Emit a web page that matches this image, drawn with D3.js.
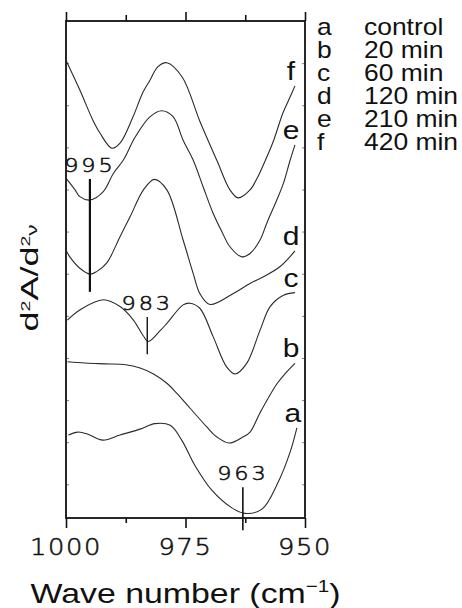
<!DOCTYPE html>
<html>
<head>
<meta charset="utf-8">
<script src="https://cdn.jsdelivr.net/npm/d3@7"></script>
<style>
  html, body { margin: 0; padding: 0; background: #fff; }
  svg { display: block; }
  text { font-family: "Liberation Sans", Arial, Helvetica, sans-serif; fill: #111; }
  text.num { font-family: "DejaVu Sans", sans-serif; font-weight: 200; stroke: #111; stroke-width: 0.55; }
</style>
</head>
<body>
<svg id="chart" width="462" height="608"></svg>
<script>
// Second-derivative IR spectra, offset vertically.
// Each point: [wave number (cm-1), d2A/dv2 (arbitrary units, stacked offset)]
const spectrumA = [[999.5, 1.17], [997.5, 1.24], [995.4, 1.19], [992.3, 1.05], [988.7, 1.17], [984.5, 1.31],
  [981.4, 1.44], [978.2, 1.40], [975.8, 1.05], [973.0, 0.44], [969.5, -0.14], [965.3, -0.56], [962.6, -0.69],
  [959.0, -0.59], [955.7, 0.03], [953.1, 0.77], [951.7, 1.34]];
const spectrumB = [[999.7, 2.91], [996.0, 2.88], [992.0, 2.86], [987.5, 2.84], [984.5, 2.76], [981.7, 2.62],
  [978.9, 2.40], [976.8, 2.16], [974.0, 1.80], [970.6, 1.37], [968.5, 1.13], [965.9, 0.98], [962.9, 1.13],
  [961.5, 1.24], [959.4, 1.70], [955.9, 2.38], [954.2, 2.62], [952.1, 2.87]];
const spectrumC = [[999.7, 3.90], [997.1, 4.14], [992.2, 4.38], [988.7, 4.22], [985.9, 3.90], [983.8, 3.52],
  [982.8, 3.39], [980.2, 3.66], [978.9, 3.82], [975.5, 4.26], [974.1, 4.30], [972.0, 4.18], [969.2, 3.50],
  [966.4, 2.79], [964.6, 2.62], [962.2, 2.87], [959.4, 3.66], [957.3, 4.22], [954.5, 4.49], [952.1, 4.55]];
const spectrumD = [[1000, 5.56], [999.2, 5.40], [997.1, 5.13], [995.0, 4.99], [993.6, 5.05], [991.5, 5.25],
  [988.7, 5.88], [986.6, 6.35], [983.8, 6.99], [981.5, 7.24], [978.9, 6.99], [975.5, 5.80], [973.4, 5.01],
  [972.0, 4.53], [969.9, 4.27], [965.0, 4.53], [961.5, 4.77], [958.8, 4.92], [955.2, 5.17], [952.1, 5.54]];
const spectrumE = [[1000, 7.27], [998.1, 6.99], [997.1, 6.83], [995.0, 6.75], [992.2, 6.95], [990.1, 7.38],
  [988.0, 7.70], [985.5, 8.25], [982.4, 8.73], [980.0, 8.87], [977.6, 8.73], [975.5, 8.17], [973.4, 7.70],
  [971.3, 7.06], [969.2, 6.43], [967.4, 6.00], [965.7, 5.64], [963.2, 5.40], [961.5, 5.48], [959.4, 5.80],
  [958.0, 6.20], [955.9, 6.75], [954.5, 7.15], [953.1, 7.70], [952.1, 8.06]];
const spectrumF = [[1000, 10.07], [997.1, 9.36], [994.4, 8.65], [992.9, 8.34], [990.4, 7.98], [988.7, 8.10],
  [986.0, 8.72], [983.9, 9.31], [982.4, 9.60], [980.8, 9.91], [978.9, 10.01], [975.7, 9.67], [972.0, 8.62],
  [968.4, 7.68], [965.7, 6.99], [964.0, 6.80], [961.5, 6.99], [960.0, 7.27], [958.0, 7.77], [956.7, 8.12],
  [954.6, 8.82], [953.1, 9.20], [952.1, 9.46]];

const seriesKeys = ["a", "b", "c", "d", "e", "f"];
const seriesData = [spectrumA, spectrumB, spectrumC, spectrumD, spectrumE, spectrumF];
const legendLabels = ["control", "20 min", "60 min", "120 min", "210 min", "420 min"];

const xTickValues = [1000, 987.5, 975, 962.5, 950];
const xTickLabels = [1000, 975, 950];
const yTickValues = [0, 1, 2, 3, 4, 5, 6, 7, 8, 9, 10];

// Peak markers: wave number, top and bottom of the marker line (y units)
const peakWavenumbers = [995, 983, 963];
const peakTops = [7.25, 3.97, -0.07];
const peakBottoms = [4.57, 3.09, -1.09];

const svg = d3.select("#chart");
const x = d3.scaleLinear().domain([1000, 950]).range([66, 305]);
const y = d3.scaleLinear().domain([-0.8, 11]).range([518, 21]);

// helper for horizontally stretched text
function stretchText(parent, px, py, str, size, sx, anchor) {
  return parent.append("text")
    .attr("transform", `translate(${px},${py}) scale(${sx},1)`)
    .attr("text-anchor", anchor || "middle")
    .attr("font-size", size)
    .text(str);
}

// faint inner ticks on both vertical edges
const yLeft = d3.axisLeft(y).tickValues(yTickValues).tickSize(-3).tickFormat("");
const yRight = d3.axisRight(y).tickValues(yTickValues).tickSize(-3).tickFormat("");
svg.append("g").attr("transform", `translate(${x(1000)},0)`).call(yLeft)
  .call(g => g.select(".domain").remove())
  .call(g => g.selectAll("line").attr("stroke", "#666").attr("stroke-width", 0.8));
svg.append("g").attr("transform", `translate(${x(950)},0)`).call(yRight)
  .call(g => g.select(".domain").remove())
  .call(g => g.selectAll("line").attr("stroke", "#666").attr("stroke-width", 0.8));

// top and bottom axes: outward ticks, long at 25 cm-1 steps
const isMajor = v => xTickLabels.includes(v);
const xTop = d3.axisTop(x).tickValues(xTickValues).tickSize(9).tickFormat("");
const gTop = svg.append("g").attr("transform", `translate(0,${y(11)})`).call(xTop);
gTop.select(".domain").remove();
gTop.selectAll(".tick line").attr("y2", d => isMajor(d) ? -9 : -6)
  .attr("stroke", "#111").attr("stroke-width", 1.6);

const xBottom = d3.axisBottom(x).tickValues(xTickValues).tickSize(10).tickFormat("");
const gBot = svg.append("g").attr("transform", `translate(0,${y(-0.8)})`).call(xBottom);
gBot.select(".domain").remove();
gBot.selectAll(".tick line").attr("y2", d => isMajor(d) ? 10 : 5)
  .attr("stroke", "#111").attr("stroke-width", 1.6);

// frame
svg.append("rect")
  .attr("x", x(1000)).attr("y", y(11))
  .attr("width", x(950) - x(1000)).attr("height", y(-0.8) - y(11))
  .attr("fill", "none").attr("stroke", "#111").attr("stroke-width", 1.8);

// tick labels
xTickLabels.forEach(v => {
  stretchText(svg, x(v), 555, String(v), 23, 1.12, "middle")
    .attr("class", "num").attr("letter-spacing", 1.5);
});

// spectra
const line = d3.line()
  .x(d => x(d[0])).y(d => y(d[1]))
  .curve(d3.curveCatmullRom.alpha(0.5));

seriesData.forEach((data, i) => {
  svg.append("path")
    .datum(data)
    .attr("d", line)
    .attr("fill", "none")
    .attr("stroke", "#2a2a2a")
    .attr("stroke-width", 1.1);
  const end = data[data.length - 1];
  stretchText(svg, x(end[0]) - 4, y(end[1]) - 6, seriesKeys[i], 25, 1.2, "middle");
});

// peak markers
const peakWidths = [2.2, 1.4, 1.6];
peakWavenumbers.forEach((w, i) => {
  svg.append("line")
    .attr("x1", x(w)).attr("x2", x(w))
    .attr("y1", y(peakTops[i])).attr("y2", y(peakBottoms[i]))
    .attr("stroke", "#111").attr("stroke-width", peakWidths[i]);
  stretchText(svg, x(w), y(peakTops[i]) - 7, String(w), 19.5, 1.15, "middle")
    .attr("class", "num").attr("letter-spacing", 2.5);
});

// legend
seriesKeys.forEach((k, i) => {
  const by = 35 + i * 23;
  stretchText(svg, 317, by, k, 23, 1.15, "start");
  stretchText(svg, 364, by, legendLabels[i], 23, 1.15, "start");
});

// y title: d2A/d2v
const yTitle = svg.append("text")
  .attr("transform", "translate(38,278) rotate(-90) scale(1.5,1)")
  .attr("text-anchor", "middle")
  .attr("font-size", 24);
yTitle.append("tspan").text("d");
yTitle.append("tspan").attr("font-size", 13).attr("dy", -8.5).text("2");
yTitle.append("tspan").attr("dy", 8.5).text("A/d");
yTitle.append("tspan").attr("font-size", 13).attr("dy", -8.5).text("2");
yTitle.append("tspan").attr("font-size", 15).attr("dy", 7).text("ν");

// x title
const xTitle = svg.append("text")
  .attr("transform", `translate(${(x(1000) + x(950)) / 2},603) scale(1.21,1)`)
  .attr("text-anchor", "middle")
  .attr("font-size", 28);
xTitle.append("tspan").text("Wave number (cm");
xTitle.append("tspan").attr("font-size", 17).attr("dy", -11).text("−1");
xTitle.append("tspan").attr("dy", 11).text(")");
</script>
</body>
</html>
